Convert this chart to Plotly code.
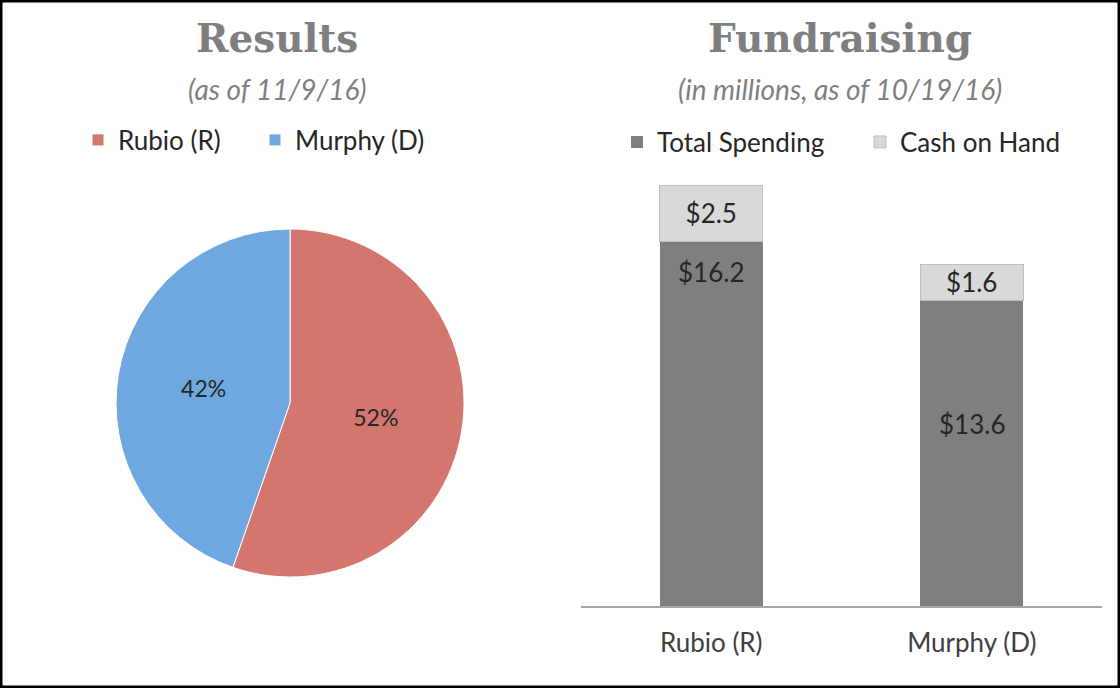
import plotly.graph_objects as go

# results pie
candidates = ["Rubio (R)", "Murphy (D)"]
vote_pct = [52, 42]
vote_labels = ["52%", "42%"]
pie_colors = ["#d2766e", "#6fa8e0"]

# fundraising bars (millions)
spending = [16.2, 13.6]
cash = [2.5, 1.6]
spending_labels = ["$16.2", "$13.6"]
cash_labels = ["$2.5", "$1.6"]

W, H = 1120, 688
font_main = "Lato, 'Noto Sans', sans-serif"
gray_title = "#7f7f7f"
text_dark = "#262626"


def px_x(x):
    return x / W


def px_y(y):
    return 1 - y / H


fig = go.Figure()

fig.add_trace(go.Pie(
    labels=candidates, values=vote_pct, text=vote_labels,
    textinfo="text", textposition="inside", insidetextorientation="horizontal",
    sort=False, direction="clockwise", rotation=0,
    marker=dict(colors=pie_colors, line=dict(color="white", width=1)),
    textfont=dict(family=font_main, size=23, color=text_dark),
    domain=dict(x=[px_x(116), px_x(464)], y=[px_y(577), px_y(229)]),
    legend="legend", hoverinfo="label+text",
))

fig.add_trace(go.Bar(
    x=candidates, y=spending, name="Total Spending",
    marker=dict(color="#7f7f7f", line=dict(width=0)),
    width=0.395, legend="legend2", hoverinfo="x+y",
))
fig.add_trace(go.Bar(
    x=candidates, y=cash, name="Cash on Hand", text=cash_labels,
    textposition="inside", insidetextanchor="middle", constraintext="none",
    textfont=dict(family=font_main, size=26, color=text_dark),
    marker=dict(color="#d9d9d9", line=dict(color="#bfbfbf", width=1)),
    width=0.395, legend="legend2", hoverinfo="x+y",
))

# dark segment labels, placed as in the original (not centred)
label_offsets = [1.35, 5.5]
annotations = []
for cand, val, lab, off in zip(candidates, spending, spending_labels, label_offsets):
    annotations.append(dict(
        x=cand, y=val - off, xref="x", yref="y", text=lab, showarrow=False,
        font=dict(family=font_main, size=26, color=text_dark),
    ))

# titles
titles = [
    ("Results", "(as of 11/9/16)", 277),
    ("Fundraising", "(in millions, as of 10/19/16)", 840),
]
for title, sub, cx in titles:
    annotations.append(dict(
        x=px_x(cx), y=px_y(38), xref="paper", yref="paper", text="<b>" + title + "</b>",
        xanchor="center", yanchor="middle", showarrow=False,
        font=dict(family="'DejaVu Serif', serif", size=39, color=gray_title),
    ))
    annotations.append(dict(
        x=px_x(cx), y=px_y(89), xref="paper", yref="paper", text="<i>" + sub + "</i>",
        xanchor="center", yanchor="middle", showarrow=False,
        font=dict(family=font_main, size=28, color=gray_title),
    ))

fig.update_layout(
    width=W, height=H,
    margin=dict(l=0, r=0, t=0, b=0),
    paper_bgcolor="white", plot_bgcolor="white",
    barmode="stack",
    font=dict(family=font_main, color=text_dark),
    annotations=annotations,
    legend=dict(
        orientation="h", x=px_x(78), y=px_y(140), xanchor="left", yanchor="middle",
        entrywidth=132, traceorder="normal",
        font=dict(family=font_main, size=26, color=text_dark), bgcolor="rgba(0,0,0,0)",
    ),
    legend2=dict(
        orientation="h", x=px_x(617), y=px_y(142), xanchor="left", yanchor="middle",
        entrywidth=198, traceorder="normal",
        font=dict(family=font_main, size=26, color=text_dark), bgcolor="rgba(0,0,0,0)",
    ),
    xaxis=dict(
        domain=[px_x(581), px_x(1102)], range=[-0.5, 1.5],
        showline=True, linecolor="#a6a6a6", linewidth=1.5,
        ticks="outside", ticklen=13, tickcolor="rgba(0,0,0,0)",
        tickfont=dict(family=font_main, size=26, color="#404040"),
        showgrid=False, zeroline=False, fixedrange=True,
    ),
    yaxis=dict(
        domain=[px_y(606), px_y(156)], range=[0, 20],
        visible=False, showgrid=False, zeroline=False, fixedrange=True,
    ),
    shapes=[dict(
        type="rect", xref="paper", yref="paper", x0=0, y0=0, x1=1, y1=1,
        line=dict(color="black", width=5),
    )],
)

fig.write_html("out.html", config={"displayModeBar": False},
               post_script="document.body.style.margin='0';")
